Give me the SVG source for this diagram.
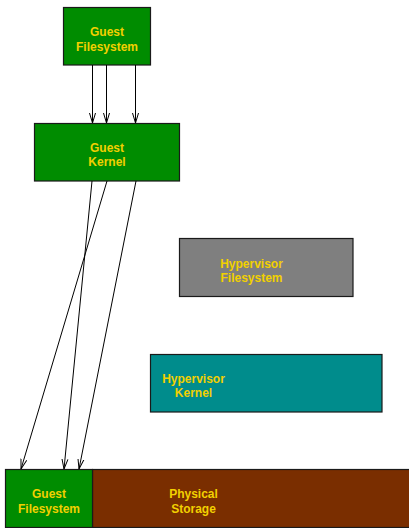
<svg xmlns="http://www.w3.org/2000/svg" width="409" height="528" viewBox="0 0 409 528">
  <style>
    .box { stroke: #1a1a1a; stroke-width: 1.2; }
    .green { fill: #008c00; }
    .gray { fill: #7f7f7f; }
    .teal { fill: #008c8c; }
    .brown { fill: #7a2e00; }
    .lbl { font-family: "Liberation Sans", Arial, sans-serif; font-size: 12px; font-weight: bold; fill: #f2d000; text-anchor: middle; }
    .edge { stroke: #000; stroke-width: 1; fill: none; marker-end: url(#arrow); }
  </style>
  <defs>
    <marker id="arrow" viewBox="0 0 10 8" refX="10" refY="4" markerWidth="10" markerHeight="8" markerUnits="userSpaceOnUse" orient="auto">
      <path d="M0,1 L10,4 L0,7" fill="none" stroke="#000" stroke-width="1"/>
    </marker>
  </defs>

  <g id="guest-filesystem-top">
    <rect class="box green" x="63.5" y="7.5" width="87" height="57.5"/>
    <text class="lbl" x="107" y="36">Guest</text>
    <text class="lbl" x="107" y="51">Filesystem</text>
  </g>

  <g id="guest-kernel">
    <rect class="box green" x="34.5" y="123.5" width="145" height="57.5"/>
    <text class="lbl" x="107" y="152">Guest</text>
    <text class="lbl" x="107" y="166">Kernel</text>
  </g>

  <g id="hypervisor-filesystem">
    <rect class="box gray" x="179.5" y="238.5" width="173.5" height="58"/>
    <text class="lbl" x="251.5" y="268">Hypervisor</text>
    <text class="lbl" x="251.5" y="282">Filesystem</text>
  </g>

  <g id="hypervisor-kernel">
    <rect class="box teal" x="150.5" y="354.5" width="231.5" height="57.5"/>
    <text class="lbl" x="193.5" y="383">Hypervisor</text>
    <text class="lbl" x="193.5" y="397">Kernel</text>
  </g>

  <g id="physical-storage">
    <rect class="box brown" x="92.5" y="469.5" width="320" height="58"/>
    <text class="lbl" x="193.5" y="498">Physical</text>
    <text class="lbl" x="193.5" y="513">Storage</text>
  </g>

  <g id="guest-filesystem-bottom">
    <rect class="box green" x="5.5" y="469.5" width="87" height="58"/>
    <text class="lbl" x="49" y="498">Guest</text>
    <text class="lbl" x="49" y="513">Filesystem</text>
  </g>

  <g id="connectors">
    <line class="edge" x1="92.5" y1="65" x2="92.5" y2="123"/>
    <line class="edge" x1="106.5" y1="65" x2="106.5" y2="123"/>
    <line class="edge" x1="135.5" y1="65" x2="135.5" y2="123"/>
    <line class="edge" x1="92" y1="181" x2="64" y2="469"/>
    <line class="edge" x1="107" y1="181" x2="21" y2="469"/>
    <line class="edge" x1="136" y1="181" x2="79" y2="469"/>
  </g>
</svg>
